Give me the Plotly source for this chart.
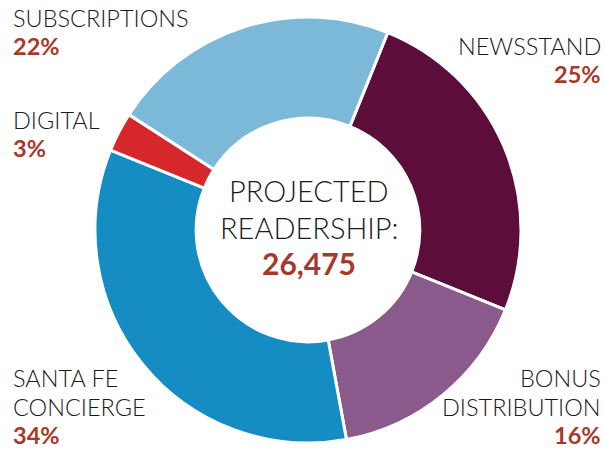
import plotly.graph_objects as go

categories = ["NEWSSTAND", "BONUS DISTRIBUTION", "SANTA FE CONCIERGE", "DIGITAL", "SUBSCRIPTIONS"]
shares = [25, 16, 34, 3, 22]
colors = ["#5c0d3a", "#8a5a8c", "#168dc2", "#d6282a", "#7cb9d8"]
total_readership = "26,475"

RED = "#a8382a"
DARK = "#1a1a1a"
FONT = "Lato"

fig = go.Figure(go.Pie(
    labels=categories,
    values=shares,
    sort=False,
    direction="clockwise",
    rotation=22,
    hole=0.525,
    marker=dict(colors=colors, line=dict(color="white", width=3)),
    textinfo="none",
    hoverinfo="label+percent",
    showlegend=False,
    domain=dict(x=[(308 - 213) / 605, (308 + 213) / 605], y=[1 - 443 / 450, 1 - 17 / 450]),
))

def ann(text, x, y, xanchor, color=DARK, size=23.5, weight=300):
    fig.add_annotation(text=text, x=x / 605, y=1 - y / 450, xref="paper", yref="paper",
                       xanchor=xanchor, yanchor="middle", showarrow=False, borderpad=0,
                       font=dict(family=FONT, size=size, color=color, weight=weight))

ann(categories[4], 12, 18, "left")
ann(f"{shares[4]}%", 12, 46, "left", RED, 23.5, 700)
ann(categories[3], 12, 120, "left")
ann(f"{shares[3]}%", 12, 148, "left", RED, 23.5, 700)
ann("SANTA FE", 12, 378, "left")
ann("CONCIERGE", 12, 406.5, "left")
ann(f"{shares[2]}%", 12, 435, "left", RED, 23.5, 700)
ann(categories[0], 602, 46, "right")
ann(f"{shares[0]}%", 602, 74, "right", RED, 23.5, 700)
ann("BONUS", 602, 378, "right")
ann("DISTRIBUTION", 602, 406.5, "right")
ann(f"{shares[1]}%", 602, 435, "right", RED, 23.5, 700)

ann("PROJECTED", 309, 190, "center", DARK, 29, 300)
ann("READERSHIP:", 309, 227, "center", DARK, 29, 300)
ann(total_readership, 309, 263, "center", RED, 30, 700)

fig.update_layout(width=605, height=450, margin=dict(l=0, r=0, t=0, b=0),
                  paper_bgcolor="white", plot_bgcolor="white")
fig.write_html("out.html", config={"displayModeBar": False},
               post_script="document.body.style.margin='0';document.body.style.overflow='hidden';")
